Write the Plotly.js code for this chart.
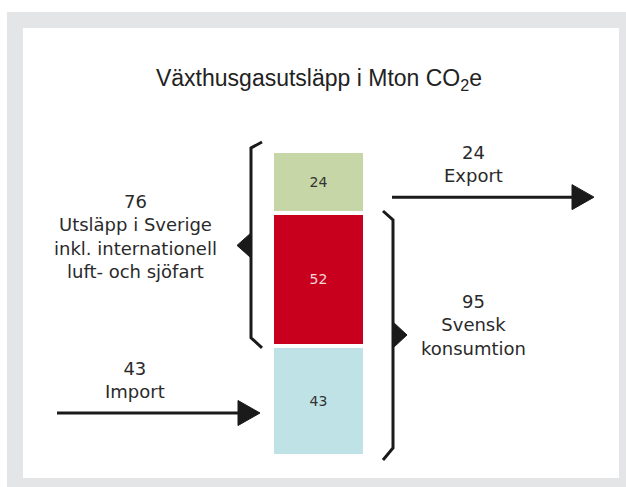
<!DOCTYPE html>
<html>
<head>
<meta charset="utf-8">
<script src="https://cdn.plot.ly/plotly-3.0.1.min.js"></script>
<style>
  html, body { margin: 0; padding: 0; background: #fff; }
  #grafica { width: 626px; height: 487px; }
</style>
</head>
<body>
<div id="grafica"></div>
<script>
// data (Mton CO2e)
var categories = ['Utsläpp'];
var importVals = [43];
var domesticVals = [52];
var exportVals = [24];
var segmentNames = ['Import', 'Utsläpp i Sverige', 'Export'];
var segmentColors = ['#bfe2e6', '#c8001e', '#c6d6a6'];
var segmentText = ['#333333', '#f3d6d9', '#333333'];

var imp = importVals[0], dom = domesticVals[0], exp = exportVals[0];
var total = imp + dom + exp;          // 119
var emitted = dom + exp;              // 76
var consumed = imp + dom;             // 95

// the y axis is in Mton, K = pixels per Mton
var K = 305 / total;
var yRange = [-(487 - 456) / K, 456 / K];
function d(px) { return px / K; }
function vy(p) { return (456 - p) / K; }

var BAR_X = 318.5;
var font = 'DejaVu Sans, Liberation Sans, sans-serif';
var ink = '#1a1a1a';

var vals = [importVals, domesticVals, exportVals];
var data = vals.map(function (v, i) {
  return {
    type: 'bar',
    x: [BAR_X],
    y: v,
    width: 93,
    name: segmentNames[i],
    text: v.map(String),
    textposition: 'inside',
    insidetextanchor: 'middle',
    textangle: 0,
    textfont: { family: font, size: 14, color: segmentText[i] },
    marker: { color: segmentColors[i], line: { color: '#ffffff', width: 4 } },
    hoverinfo: 'skip'
  };
});

function P(pts) {
  return 'M' + pts.map(function (p) { return p[0] + ',' + p[1]; }).join(' L') ;
}

var shapes = [
  // grey frame
  { type: 'rect', xref: 'paper', yref: 'paper', layer: 'below',
    x0: 7 / 626, x1: 1, y0: 0, y1: 1 - 12 / 487,
    fillcolor: '#e4e5e7', line: { width: 0 } },
  { type: 'rect', xref: 'paper', yref: 'paper', layer: 'below',
    x0: 23 / 626, x1: 619 / 626, y0: 1 - 478 / 487, y1: 1 - 28 / 487,
    fillcolor: '#ffffff', line: { width: 0 } }
];

// left brace: emissions in Sweden (imp .. total)
var lo = imp, hi = total, c = (lo + hi) / 2 + d(3);
shapes.push({ type: 'path', xref: 'x', yref: 'y', line: { color: ink, width: 3 },
  path: P([[262, hi + d(9)], [251, hi + d(3)], [251, lo + d(8)], [262, lo - d(2)]]) });
shapes.push({ type: 'path', xref: 'x', yref: 'y', line: { color: ink, width: 1 }, fillcolor: ink,
  path: P([[251, c + d(12.5)], [237, c], [251, c - d(12.5)]]) + ' Z' });

// right brace: Swedish consumption (0 .. imp+dom)
lo = 0; hi = consumed; c = (lo + hi) / 2 - d(0.7);
shapes.push({ type: 'path', xref: 'x', yref: 'y', line: { color: ink, width: 3 },
  path: P([[383, hi + d(1.5)], [393, hi - d(7.5)], [393, lo + d(8)], [383, lo - d(4)]]) });
shapes.push({ type: 'path', xref: 'x', yref: 'y', line: { color: ink, width: 1 }, fillcolor: ink,
  path: P([[393, c + d(13)], [407, c], [393, c - d(13)]]) + ' Z' });

// export arrow and import arrow
var yExp = consumed + exp / 4;
var yImp = imp * 0.39;
[[392, 594, yExp], [57, 260, yImp]].forEach(function (a) {
  shapes.push({ type: 'path', xref: 'x', yref: 'y', line: { color: ink, width: 3 },
    path: P([[a[0], a[2]], [a[1] - 20, a[2]]]) });
  shapes.push({ type: 'path', xref: 'x', yref: 'y', line: { color: ink, width: 1 }, fillcolor: ink,
    path: P([[a[1] - 22, a[2] + d(12.5)], [a[1], a[2]], [a[1] - 22, a[2] - d(12.5)]]) + ' Z' });
});

function note(txt, x, p) {
  return { text: txt, x: x, y: vy(p), xref: 'x', yref: 'y', showarrow: false,
    align: 'center', xanchor: 'center', yanchor: 'top',
    font: { family: font, size: 18, color: '#2a2a2a' } };
}

var annotations = [
  note(String(emitted) + '<br>Utsläpp i Sverige<br>inkl. internationell<br>luft- och sjöfart', 135, 189),
  note(String(imp) + '<br>Import', 135, 356),
  note(String(exp) + '<br>Export', 473, 140),
  note(String(consumed) + '<br>Svensk<br>konsumtion', 473, 289)
];

var layout = {
  width: 626,
  height: 487,
  margin: { l: 0, r: 0, t: 0, b: 0 },
  paper_bgcolor: '#ffffff',
  plot_bgcolor: 'rgba(0,0,0,0)',
  showlegend: false,
  barmode: 'stack',
  title: {
    text: 'Växthusgasutsläpp i Mton CO<sub>2</sub>e',
    font: { family: 'Liberation Sans, sans-serif', size: 23, color: '#222222' },
    x: 319 / 626, xanchor: 'center',
    y: 1 - 78 / 487, yanchor: 'middle'
  },
  xaxis: { range: [0, 626], visible: false, fixedrange: true },
  yaxis: { range: yRange, visible: false, fixedrange: true },
  shapes: shapes,
  annotations: annotations
};

Plotly.newPlot('grafica', data, layout, { displayModeBar: false, staticPlot: true });
</script>
</body>
</html>
